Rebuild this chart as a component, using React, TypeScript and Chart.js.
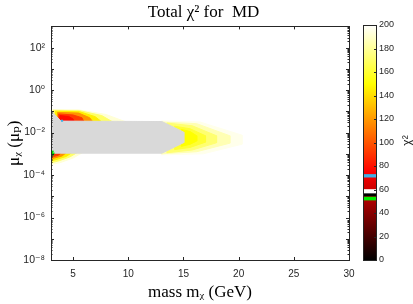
import React, { useEffect, useRef } from 'react';
import { Chart, registerables } from 'chart.js';

Chart.register(...registerables);

// ---------- text ----------
const TITLE = 'Total χ² for  MD';
const X_TITLE = 'mass mᵪ (GeV)';
const Y_TITLE = 'μᵪ (μₚ)';
const CB_TITLE = 'χ²';

// ---------- axes ----------
const massRange = [3, 30];
const muExpRange = [-8, 3];
const massTicks = [5, 10, 15, 20, 25, 30];
const muTickExps = [-8, -6, -4, -2, 0, 2];
const muTickLabels = ['10⁻⁸', '10⁻⁶', '10⁻⁴', '10⁻²', '10⁰', '10²'];
const chi2Range = [0, 200];
const chi2Ticks = [0, 20, 40, 60, 80, 100, 120, 140, 160, 180, 200];

// ---------- chi2 contour bands (level, mass GeV, log10 mu) ----------
// plume right of the excluded region
const plumeLevels = [196, 185, 172, 160, 150];
const plumeMass = [
  [13.0, 16.5, 20.3, 20.3, 16.8, 13.0],
  [13.0, 16.2, 19.2, 19.2, 16.2, 13.0],
  [13.5, 15.8, 18.0, 18.0, 15.8, 13.5],
  [14.2, 15.6, 17.0, 17.0, 15.6, 14.2],
  [14.8, 15.6, 16.2, 16.2, 15.6, 14.8],
];
const plumeLogMu = [
  [-1.45, -1.5, -2.12, -2.55, -3.0, -3.05],
  [-1.5, -1.58, -2.15, -2.5, -2.9, -3.0],
  [-1.55, -1.68, -2.15, -2.48, -2.82, -2.95],
  [-1.7, -1.82, -2.15, -2.45, -2.7, -2.8],
  [-1.85, -1.95, -2.15, -2.4, -2.55, -2.65],
];

// blob above the excluded region
const upperLevels = [192, 170, 145, 118, 92, 78];
const upperMass = [
  [3.0, 5.5, 8.0, 9.8, 3.0],
  [3.2, 5.6, 7.6, 8.6, 3.2],
  [3.4, 5.6, 7.0, 7.6, 3.4],
  [3.6, 5.5, 6.5, 6.8, 3.6],
  [3.7, 5.0, 5.8, 6.0, 3.7],
  [3.8, 4.6, 5.0, 5.1, 3.8],
];
const upperLogMu = [
  [-0.92, -0.93, -1.15, -1.5, -1.5],
  [-0.95, -0.97, -1.2, -1.5, -1.5],
  [-0.99, -1.02, -1.25, -1.5, -1.5],
  [-1.05, -1.08, -1.3, -1.5, -1.5],
  [-1.12, -1.17, -1.3, -1.5, -1.5],
  [-1.2, -1.24, -1.36, -1.5, -1.5],
];

// blob below the excluded region
const lowerLevels = [192, 170, 145, 118, 92];
const lowerMass = [
  [3.0, 6.0, 5.0, 3.8, 3.0],
  [3.0, 5.5, 4.7, 3.6, 3.0],
  [3.0, 5.0, 4.4, 3.4, 3.0],
  [3.0, 4.5, 4.0, 3.3, 3.0],
  [3.0, 4.0, 3.7, 3.2, 3.0],
];
const lowerLogMu = [
  [-2.9, -2.9, -3.2, -3.42, -3.5],
  [-2.9, -2.9, -3.15, -3.35, -3.42],
  [-2.9, -2.9, -3.12, -3.28, -3.34],
  [-2.9, -2.9, -3.1, -3.2, -3.25],
  [-2.9, -2.9, -3.06, -3.13, -3.16],
];

// excluded (grey) region
const excludedMass = [3.0, 3.9, 13.05, 15.03, 15.03, 13.05, 3.0];
const excludedLogMu = [-0.96, -1.46, -1.48, -1.98, -2.47, -2.97, -2.97];

// benchmark points
const bestFitMass = [3.0];
const bestFitLogMu = [-2.97];
const cyanMass = [4.0];
const cyanLogMu = [-1.44];

// colour-bar markers (chi2 ranges)
const cbMarkerRanges = [
  [70.5, 72.8],
  [57.0, 60.0],
  [54.5, 57.0],
  [51.0, 53.6],
];
const cbMarkerColors = ['#3fb0e6', '#ffffff', '#000000', '#00ee00'];

// ---------- styles ----------
const AXIS_COLOR = '#262626';
const GREY = '#d9d9d9';
const SANS = "'Liberation Sans', Arial, 'DejaVu Sans', sans-serif";
const SERIF = "'Liberation Serif', 'DejaVu Serif', serif";

function hot(v: number): string {
  const t = Math.min(1, Math.max(0, (v - chi2Range[0]) / (chi2Range[1] - chi2Range[0])));
  const c = (x: number) => Math.round(255 * Math.min(1, Math.max(0, x)));
  return `rgb(${c(t / 0.375)},${c((t - 0.375) / 0.375)},${c((t - 0.75) / 0.25)})`;
}

function polygon(mass: number[], logMu: number[]) {
  const pts = mass.map((m, i) => ({ x: m, y: Math.pow(10, logMu[i]) }));
  pts.push({ ...pts[0] });
  return pts;
}

const boxPlugin = {
  id: 'matlabBox',
  afterDatasetsDraw(chart: any) {
    const { ctx, chartArea: a, scales } = chart;
    const xs = scales.x;
    const ys = scales.y;
    ctx.save();
    ctx.strokeStyle = AXIS_COLOR;
    ctx.lineWidth = 1;
    ctx.beginPath();
    for (const v of massTicks) {
      const px = Math.round(xs.getPixelForValue(v)) + 0.5;
      ctx.moveTo(px, a.bottom);
      ctx.lineTo(px, a.bottom - 3);
      ctx.moveTo(px, a.top);
      ctx.lineTo(px, a.top + 3);
    }
    for (let e = muExpRange[0]; e <= muExpRange[1]; e++) {
      for (let k = 1; k < 10; k++) {
        const v = k * Math.pow(10, e);
        if (v > Math.pow(10, muExpRange[1]) * 1.0001) break;
        const py = Math.round(ys.getPixelForValue(v)) + 0.5;
        const len = k === 1 ? 3 : 1.5;
        ctx.moveTo(a.left, py);
        ctx.lineTo(a.left + len, py);
        ctx.moveTo(a.right, py);
        ctx.lineTo(a.right - len, py);
      }
    }
    ctx.stroke();
    ctx.strokeRect(
      Math.round(a.left) + 0.5,
      Math.round(a.top) + 0.5,
      Math.round(a.right - a.left),
      Math.round(a.bottom - a.top)
    );
    ctx.restore();
  },
};

const cbPlugin = {
  id: 'cbBox',
  afterDraw(chart: any) {
    const { ctx, chartArea: a, scales } = chart;
    const ys = scales.y;
    ctx.save();
    ctx.strokeStyle = AXIS_COLOR;
    ctx.lineWidth = 1;
    ctx.beginPath();
    for (const v of chi2Ticks) {
      const py = Math.round(ys.getPixelForValue(v)) + 0.5;
      ctx.moveTo(a.right, py);
      ctx.lineTo(a.right - 2, py);
    }
    ctx.stroke();
    ctx.strokeRect(
      Math.round(a.left) + 0.5,
      Math.round(a.top) + 0.5,
      Math.round(a.right - a.left),
      Math.round(a.bottom - a.top)
    );
    ctx.translate(58, (a.top + a.bottom) / 2 - 2);
    ctx.rotate(-Math.PI / 2);
    ctx.fillStyle = AXIS_COLOR;
    ctx.font = `12px ${SANS}`;
    ctx.textAlign = 'center';
    ctx.textBaseline = 'middle';
    ctx.fillText(CB_TITLE, 0, 0);
    ctx.restore();
  },
};

function bandDatasets() {
  const layers: { mass: number[]; logMu: number[]; color: string }[] = [];
  plumeLevels.forEach((lv, i) => layers.push({ mass: plumeMass[i], logMu: plumeLogMu[i], color: hot(lv) }));
  upperLevels.forEach((lv, i) => layers.push({ mass: upperMass[i], logMu: upperLogMu[i], color: hot(lv) }));
  lowerLevels.forEach((lv, i) => layers.push({ mass: lowerMass[i], logMu: lowerLogMu[i], color: hot(lv) }));
  layers.push({ mass: excludedMass, logMu: excludedLogMu, color: GREY });
  const n = layers.length + 10;
  const ds: any[] = layers.map((l, i) => ({
    data: polygon(l.mass, l.logMu),
    showLine: true,
    fill: 'shape',
    backgroundColor: l.color,
    borderColor: l.color,
    borderWidth: 1,
    pointRadius: 0,
    tension: 0,
    order: n - i,
  }));
  ds.push({
    data: cyanMass.map((m, i) => ({ x: m, y: Math.pow(10, cyanLogMu[i]) })),
    showLine: false,
    pointStyle: 'rect',
    pointRadius: 1.5,
    backgroundColor: '#3fb0e6',
    borderColor: '#3fb0e6',
    borderWidth: 0,
    order: 1,
  });
  ds.push({
    data: bestFitMass.map((m, i) => ({ x: m, y: Math.pow(10, bestFitLogMu[i]) })),
    showLine: false,
    pointStyle: 'star',
    pointRadius: 3.5,
    backgroundColor: '#00dd00',
    borderColor: '#00dd00',
    borderWidth: 1.5,
    order: 0,
  });
  return ds;
}

export default function App() {
  const mainRef = useRef<HTMLCanvasElement>(null);
  const cbRef = useRef<HTMLCanvasElement>(null);

  useEffect(() => {
    const main = new Chart(mainRef.current as HTMLCanvasElement, {
      type: 'scatter',
      data: { datasets: bandDatasets() },
      options: {
        animation: false,
        responsive: false,
        devicePixelRatio: 1,
        events: [],
        layout: { padding: 0 },
        plugins: {
          legend: { display: false },
          tooltip: { enabled: false },
          title: {
            display: true,
            text: TITLE,
            color: '#000',
            font: { family: SERIF, size: 17, weight: 'normal', lineHeight: 1.2 },
            padding: { top: 2, bottom: 4 },
          },
        },
        scales: {
          x: {
            type: 'linear',
            position: 'bottom',
            min: massRange[0],
            max: massRange[1],
            grid: { display: false, drawTicks: false, tickLength: 0 },
            border: { display: false },
            afterBuildTicks: (s: any) => {
              s.ticks = massTicks.map((v) => ({ value: v }));
            },
            ticks: {
              autoSkip: false,
              maxRotation: 0,
              color: AXIS_COLOR,
              font: { family: SANS, size: 10 },
              padding: 8,
            },
            title: {
              display: true,
              text: X_TITLE,
              color: '#000',
              font: { family: SERIF, size: 17, lineHeight: 1.2 },
              padding: { top: 0, bottom: 1 },
            },
            afterFit: (s: any) => {
              s.height = 44;
            },
          },
          y: {
            type: 'logarithmic',
            position: 'left',
            min: Math.pow(10, muExpRange[0]),
            max: Math.pow(10, muExpRange[1]),
            grid: { display: false, drawTicks: false, tickLength: 0 },
            border: { display: false },
            afterBuildTicks: (s: any) => {
              s.ticks = muTickExps.map((e) => ({ value: Math.pow(10, e) }));
            },
            ticks: {
              autoSkip: false,
              color: AXIS_COLOR,
              font: { family: SANS, size: 10.5 },
              padding: 6,
              callback: (_v: any, i: number) => muTickLabels[i],
            },
            title: {
              display: true,
              text: Y_TITLE,
              color: '#000',
              font: { family: SERIF, size: 17, lineHeight: 1.2 },
              padding: { top: 4, bottom: 0 },
            },
            afterFit: (s: any) => {
              s.width = 51;
            },
          },
          yr: {
            type: 'linear',
            position: 'right',
            min: 0,
            max: 1,
            grid: { display: false, drawTicks: false, tickLength: 0 },
            border: { display: false },
            ticks: { display: false },
            afterFit: (s: any) => {
              s.width = 58;
            },
          },
        },
      } as any,
      plugins: [boxPlugin],
    });

    const cb = new Chart(cbRef.current as HTMLCanvasElement, {
      type: 'bar',
      data: {
        labels: [''],
        datasets: [
          ...cbMarkerRanges.map((r, i) => ({
            data: [r],
            backgroundColor: cbMarkerColors[i],
          })),
          {
            data: [chi2Range],
            backgroundColor: (c: any) => {
              const a = c.chart.chartArea;
              if (!a) return '#000';
              const g = c.chart.ctx.createLinearGradient(0, a.bottom, 0, a.top);
              g.addColorStop(0, hot(0));
              g.addColorStop(0.375, hot(75));
              g.addColorStop(0.75, hot(150));
              g.addColorStop(1, hot(200));
              return g;
            },
          },
        ] as any,
      },
      options: {
        animation: false,
        responsive: false,
        devicePixelRatio: 1,
        events: [],
        datasets: {
          bar: { grouped: false, barPercentage: 1, categoryPercentage: 1, borderWidth: 0 },
        },
        layout: { padding: { left: 13, top: 25, bottom: 44, right: 0 } },
        plugins: {
          legend: { display: false },
          tooltip: { enabled: false },
          title: { display: false },
        },
        scales: {
          x: { display: false },
          y: {
            position: 'right',
            min: chi2Range[0],
            max: chi2Range[1],
            grid: { display: false, drawTicks: false, tickLength: 0 },
            border: { display: false },
            afterBuildTicks: (s: any) => {
              s.ticks = chi2Ticks.map((v) => ({ value: v }));
            },
            ticks: {
              color: AXIS_COLOR,
              font: { family: SANS, size: 9 },
              padding: 3,
            },
            afterFit: (s: any) => {
              s.width = 37;
            },
          },
        },
      } as any,
      plugins: [cbPlugin],
    });

    return () => {
      main.destroy();
      cb.destroy();
    };
  }, []);

  return (
    <div style={{ position: 'absolute', left: 0, top: 0, width: 413, height: 304, background: '#fff' }}>
      <canvas
        ref={mainRef}
        width={407}
        height={304}
        style={{ position: 'absolute', left: 0, top: 0, width: 407, height: 304 }}
      />
      <canvas
        ref={cbRef}
        width={63}
        height={304}
        style={{ position: 'absolute', left: 350, top: 0, width: 63, height: 304 }}
      />
    </div>
  );
}
